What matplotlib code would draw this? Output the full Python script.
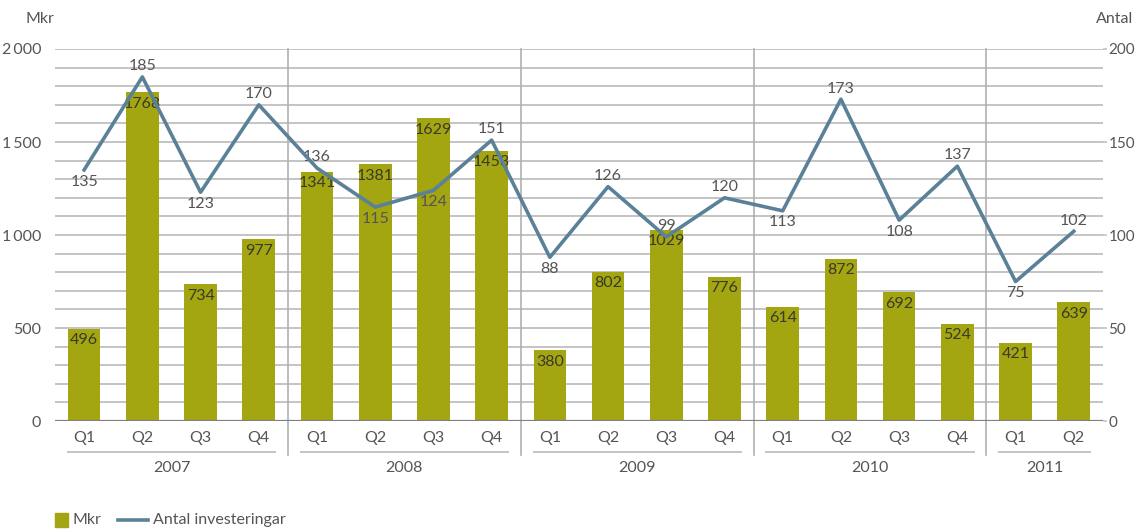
import numpy as np
import matplotlib.pyplot as plt
from matplotlib.transforms import blended_transform_factory
from matplotlib.lines import Line2D
from matplotlib.patches import Rectangle

plt.rcParams['font.family'] = ['Lato', 'DejaVu Sans']

YEARS = ["2007", "2008", "2009", "2010", "2011"]
QUARTERS_PER_YEAR = [4, 4, 4, 4, 2]
mkr = [496, 1768, 734, 977, 1341, 1381, 1629, 1453, 380, 802, 1029, 776,
       614, 872, 692, 524, 421, 639]
antal = [135, 185, 123, 170, 136, 115, 124, 151, 88, 126, 99, 120,
         113, 173, 108, 137, 75, 102]
# where the count label sits relative to its point
antal_pos = ["below", "above", "below", "above", "above", "below", "below", "above",
             "below", "above", "above", "above", "below", "above", "below", "above",
             "below", "above"]

BAR_COLOR = "#a3a511"
LINE_COLOR = "#5b8198"
TEXT = "#555555"
GRID = "#c4c4c4"
FS = 11.5

quarters = [f"Q{q + 1}" for n in QUARTERS_PER_YEAR for q in range(n)]
x = np.arange(len(mkr))

fig = plt.figure(figsize=(11.37, 5.32), dpi=100)
ax = fig.add_axes([0.0484, 0.2086, 0.9216, 0.6993])
ax2 = ax.twinx()

ax.set_xlim(-0.5, len(mkr) - 0.5)
ax.set_ylim(0, 2000)
ax2.set_ylim(0, 200)

for y in range(100, 2001, 100):
    ax.axhline(y, color=GRID, lw=1.4, zorder=0)
ax.axhline(0, color="#808080", lw=1.6, zorder=3)

bw = 0.56
ax.bar(x, mkr, width=bw, color=BAR_COLOR, zorder=2)
for xi, v in zip(x, mkr):
    ax.text(xi, v - 25, str(v), ha="center", va="top", fontsize=FS,
            color="#3a3a2a", zorder=6)

ax2.plot(x, antal, color=LINE_COLOR, lw=2.6, zorder=5)
for xi, v, p in zip(x, antal, antal_pos):
    if p == "above":
        ax2.text(xi, v + 2, str(v), ha="center", va="bottom", fontsize=FS, color=TEXT)
    else:
        ax2.text(xi, v - 2.5, str(v), ha="center", va="top", fontsize=FS, color=TEXT)

ax2.patch.set_visible(False)

# axes styling
for a in (ax, ax2):
    for s in a.spines.values():
        s.set_visible(False)
ax.set_yticks(range(0, 2001, 500))
ax.set_yticklabels([f"{v:,}".replace(",", "\u2009") if v >= 1000 else str(v)
                    for v in range(0, 2001, 500)])
ax.tick_params(axis="y", length=0, pad=10, labelsize=FS, labelcolor=TEXT)
ax2.set_yticks(range(0, 201, 50))
ax2.tick_params(axis="y", length=3, width=1.2, color=GRID, pad=1,
                labelsize=11, labelcolor=TEXT)
ax.set_xticks(x)
ax.set_xticklabels(quarters)
ax.tick_params(axis="x", length=0, pad=7, labelsize=FS, labelcolor=TEXT)

# year separators, underlines and labels
trans = blended_transform_factory(ax.transData, ax.transAxes)
start = 0
for i, (yr, n) in enumerate(zip(YEARS, QUARTERS_PER_YEAR)):
    end = start + n - 1
    ax.plot([start - bw / 2, end + bw / 2], [-0.083, -0.083], transform=trans,
            color=GRID, lw=1.4, clip_on=False)
    ax.text((start + end) / 2, -0.127, yr, transform=trans, ha="center",
            va="center", fontsize=FS, color=TEXT)
    if i < len(YEARS) - 1:
        ax.plot([end + 0.5, end + 0.5], [-0.092, 1.0], transform=trans,
                color="#b0b0b0", lw=1.2, clip_on=False, zorder=1)
    start = end + 1

fig.text(0.022, 0.965, "Mkr", fontsize=FS, color=TEXT, va="center")
fig.text(0.997, 0.965, "Antal", fontsize=FS, color=TEXT, va="center", ha="right")

# legend
ly = 1 - 520 / 532
fig.add_artist(Rectangle((55 / 1137, ly - 7 / 532), 13 / 1137, 14 / 532,
                         color=BAR_COLOR, transform=fig.transFigure))
fig.text(72 / 1137, ly, "Mkr", fontsize=FS, color=TEXT, va="center")
fig.add_artist(Line2D([118 / 1137, 148 / 1137], [ly, ly], color=LINE_COLOR,
                      lw=2.6, transform=fig.transFigure))
fig.text(153 / 1137, ly, "Antal investeringar", fontsize=FS, color=TEXT, va="center")

fig.savefig("out.png", dpi=100)
